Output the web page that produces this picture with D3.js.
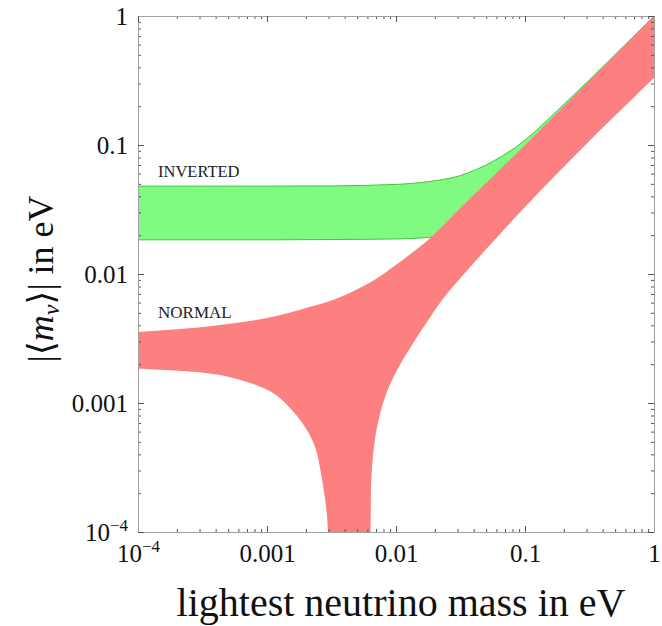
<!DOCTYPE html>
<head>
<meta charset="utf-8">
<title>neutrinoless double beta - effective mass</title>
<style>
    body {
        margin: 0;
        background: white;
    }

    .axis text {
        font-family: "Liberation Serif", "DejaVu Serif", serif;
        font-size: 25px;
        fill: #111;
    }

    .axis path {
        fill: none;
        stroke: #a0a0a0;
        stroke-width: 1px;
    }

    .axis line {
        stroke: #555;
        stroke-width: 1px;
    }

    .band-label {
        font-family: "Liberation Serif", serif;
        font-size: 16.5px;
        fill: #222;
    }

    .title {
        font-family: "Liberation Serif", "DejaVu Serif", serif;
        fill: #111;
    }
</style>
</head>
<body>
<svg></svg>
<script src="https://cdn.jsdelivr.net/npm/d3@7"></script>
<script>

    // inverted ordering band (green)
    var invMass  = [1e-4, 1e-3, 3.16e-3, 0.01, 0.0178, 0.0316, 0.0562, 0.1, 0.178, 0.316, 0.562, 1];
    var invUpper = [0.048, 0.048, 0.0482, 0.0495, 0.052, 0.058, 0.0745, 0.109, 0.185, 0.32, 0.564, 1.0];
    var invLower = [0.0184, 0.0184, 0.0185, 0.0187, 0.0192, 0.022, 0.031, 0.042, 0.07, 0.12, 0.215, 0.38];

    // normal ordering band (red): upper edge
    var norUpMass = [1e-4, 3.16e-4, 1e-3, 2e-3, 3.55e-3, 6.4e-3, 0.0102, 0.0184, 0.0316, 0.1, 0.316, 1];
    var norUpper  = [0.00355, 0.00388, 0.00456, 0.00545, 0.00652, 0.00867, 0.01195, 0.019, 0.0325, 0.1, 0.316, 1.0];

    // lower edge, left branch (falls below 1e-4 where the phases cancel)
    var norLoLeftMass = [1e-4, 3.31e-4, 5.96e-4, 1.074e-3, 1.455e-3, 1.97e-3, 2.36e-3, 2.62e-3, 2.87e-3, 2.97e-3, 3.0e-3];
    var norLoLeft     = [0.00184, 0.00171, 0.00153, 0.00122, 0.000948, 0.000652, 0.000456, 0.000286, 0.000156, 0.000102, 0.00003];

    // lower edge, right branch
    var norLoRightMass = [0.00629, 0.00635, 0.00652, 0.00713, 0.00822, 0.0102, 0.01456, 0.0178, 0.0208, 0.0251,
                          0.0316, 0.0562, 0.1, 0.316, 1];
    var norLoRight     = [0.00003, 0.000102, 0.000319, 0.000652, 0.00111, 0.0018, 0.00325, 0.0044, 0.00555, 0.00712,
                          0.00931, 0.0177, 0.0331, 0.1074, 0.331];

    var xTicks = [1e-4, 1e-3, 1e-2, 1e-1, 1];
    var xTickLabels = ["10^−4", "0.001", "0.01", "0.1", "1"];
    var yTicks = [1e-4, 1e-3, 1e-2, 1e-1, 1];
    var yTickLabels = ["10^−4", "0.001", "0.01", "0.1", "1"];

    var svg = d3.select("svg")
        .attr("width", 662)
        .attr("height", 626);

    var margin = {top: 16, right: 8, bottom: 94, left: 138},
        width = 662 - margin.left - margin.right,
        height = 626 - margin.top - margin.bottom;

    var g = svg.append("g")
        .attr("transform", "translate(" + margin.left + "," + margin.top + ")");

    var x = d3.scaleLog().domain([1e-4, 1]).range([0, width]);
    var y = d3.scaleLog().domain([1e-4, 1]).range([height, 0]);

    g.append("clipPath").attr("id", "plot-clip")
        .append("rect").attr("width", width).attr("height", height);

    function pairs(mass, vals) {
        return mass.map(function (m, i) { return {m: m, v: vals[i]}; });
    }

    var area = d3.area()
        .curve(d3.curveMonotoneX)
        .x(function (d) { return x(d.m); })
        .y0(function (d) { return y(d.lo); })
        .y1(function (d) { return y(d.hi); });

    var edge = d3.line()
        .curve(d3.curveCatmullRom.alpha(0.5))
        .x(function (d) { return x(d.m); })
        .y(function (d) { return y(d.v); });

    var plot = g.append("g").attr("clip-path", "url(#plot-clip)");

    plot.append("path")
        .datum(invMass.map(function (m, i) { return {m: m, lo: invLower[i], hi: invUpper[i]}; }))
        .attr("d", area)
        .attr("fill", "#80fa80")
        .attr("stroke", "#3fc43f")
        .attr("stroke-width", 1);

    // red outline: upper left->right, right branch back down, left branch back up
    var redPath = edge(pairs(norUpMass, norUpper))
        + "L" + edge(pairs(norLoRightMass, norLoRight).reverse()).slice(1)
        + "L" + edge(pairs(norLoLeftMass, norLoLeft).reverse()).slice(1)
        + "Z";

    plot.append("path")
        .attr("d", redPath)
        .attr("fill", "#fd8080");

    // minor ticks from the log scale itself (2..9 of each decade)
    var xMinor = x.ticks().filter(function (v) { return xTicks.indexOf(v) < 0; });
    var yMinor = y.ticks().filter(function (v) { return yTicks.indexOf(v) < 0; });

    function labelFmt(ticks, labels) {
        return function (v) { return labels[ticks.indexOf(v)]; };
    }

    function superscripts(sel) {
        sel.selectAll(".tick text").each(function () {
            var t = d3.select(this), s = t.text();
            if (s.indexOf("^") < 0) return;
            var parts = s.split("^");
            t.text(parts[0]);
            t.append("tspan").attr("dy", "-0.55em").style("font-size", "17px").text(parts[1]);
        });
    }

    // bottom
    var bottomAxis = g.append("g").attr("class", "axis axis--x")
        .attr("transform", "translate(0," + height + ")");
    bottomAxis.call(d3.axisBottom(x).tickValues(xMinor).tickSizeInner(-3).tickSizeOuter(0).tickFormat(""));
    bottomAxis.append("g").call(d3.axisBottom(x).tickValues(xTicks).tickSizeInner(-6).tickSizeOuter(0)
        .tickPadding(12).tickFormat(labelFmt(xTicks, xTickLabels)))
        .call(superscripts);

    // left
    var leftAxis = g.append("g").attr("class", "axis axis--y");
    leftAxis.call(d3.axisLeft(y).tickValues(yMinor).tickSizeInner(-3).tickSizeOuter(0).tickFormat(""));
    leftAxis.append("g").call(d3.axisLeft(y).tickValues(yTicks).tickSizeInner(-6).tickSizeOuter(0)
        .tickPadding(10).tickFormat(labelFmt(yTicks, yTickLabels)))
        .call(superscripts);

    // top and right frame, ticks only
    var topAxis = g.append("g").attr("class", "axis");
    topAxis.call(d3.axisTop(x).tickValues(xMinor).tickSizeInner(-3).tickSizeOuter(0).tickFormat(""));
    topAxis.append("g").call(d3.axisTop(x).tickValues(xTicks).tickSizeInner(-6).tickSizeOuter(0).tickFormat(""));

    var rightAxis = g.append("g").attr("class", "axis").attr("transform", "translate(" + width + ",0)");
    rightAxis.call(d3.axisRight(y).tickValues(yMinor).tickSizeInner(-3).tickSizeOuter(0).tickFormat(""));
    rightAxis.append("g").call(d3.axisRight(y).tickValues(yTicks).tickSizeInner(-6).tickSizeOuter(0).tickFormat(""));

    // band labels
    g.append("text").attr("class", "band-label")
        .attr("x", 20).attr("y", 161)
        .text("INVERTED");
    g.append("text").attr("class", "band-label")
        .attr("x", 20).attr("y", 302)
        .style("font-size", "17px")
        .text("NORMAL");

    // axis titles
    svg.append("text").attr("class", "title")
        .attr("x", 401).attr("y", 616)
        .attr("text-anchor", "middle")
        .style("font-size", "40px")
        .text("lightest neutrino mass in eV");

    var yTitle = svg.append("text").attr("class", "title")
        .attr("transform", "translate(53,279) rotate(-90)")
        .attr("text-anchor", "middle")
        .style("font-size", "36px");
    yTitle.append("tspan").text("|\u27E8");
    yTitle.append("tspan").style("font-style", "italic").text("m");
    yTitle.append("tspan").style("font-style", "italic").style("font-size", "24px")
        .attr("dy", "0.25em").text("\u03BD");
    yTitle.append("tspan").attr("dy", "-0.17em").text("\u27E9| in eV");

</script>
</body>
